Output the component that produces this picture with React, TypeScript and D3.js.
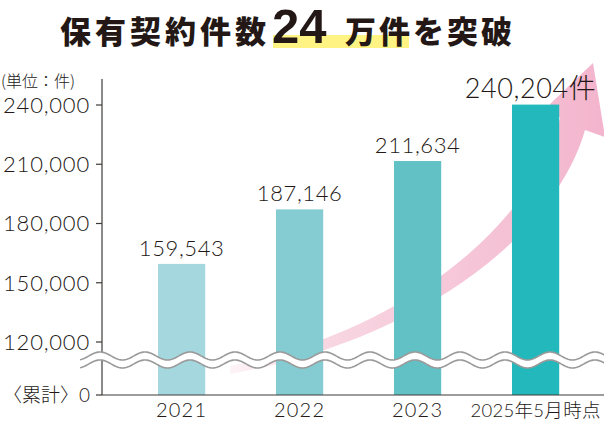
import React from "react";
import * as d3 from "d3";

const categories = ["2021", "2022", "2023", "2025年5月時点"];
const values = [159543, 187146, 211634, 240204];
const valueLabels = ["159,543", "187,146", "211,634", "240,204件"];
const tickValues = [120000, 150000, 180000, 210000, 240000];
const barColors = ["#a4d8de", "#85ccd2", "#62c1c5", "#23b8bb"];

const W = 604;
const H = 421;
const AXIS_X = 102;
const BASE_Y = 395;
const INK = "#231815";
const NUM_FONT = "Lato, 'Noto Sans CJK JP', sans-serif";
const JP_FONT = "'Noto Sans CJK JP', sans-serif";

function wavePath(x0: number, x1: number, yc: number) {
  const pts: [number, number][] = [];
  for (let x = x0; x <= x1; x += 1) {
    pts.push([x, yc - 4 * Math.cos((2 * Math.PI * (x - 100)) / 45)]);
  }
  return pts;
}

export default function App() {
  const x = d3
    .scaleBand<string>()
    .domain(categories)
    .range([158, 559.2])
    .paddingInner(0.6)
    .paddingOuter(0);
  const y = d3.scaleLinear().domain([120000, 240000]).range([342, 105]);

  const upper = wavePath(80, 606, 356);
  const lower = wavePath(80, 606, 364);
  const line = d3.line();
  const fillPts = [...upper, ...lower.slice().reverse()];

  const arrow =
    "M230,374 C420,340 555,235 585,130 L605,137 L593,63 L550,104 L560,118 C535,220 410,330 230,366 Z";

  return (
    <svg
      width={W}
      height={H}
      style={{ position: "absolute", left: 0, top: 0, background: "#fff" }}
    >
      <defs>
        <linearGradient id="arrowGrad" gradientUnits="userSpaceOnUse" x1={230} y1={0} x2={600} y2={0}>
          <stop offset="0" stopColor="#f6c9da" stopOpacity={0.2} />
          <stop offset="0.25" stopColor="#f7d2df" stopOpacity={0.9} />
          <stop offset="1" stopColor="#f3b5cd" stopOpacity={1} />
        </linearGradient>
      </defs>

      {/* Title */}
      <rect x={273} y={35} width={136} height={13} fill="#fff383" />
      <text x={60} y={43} fontFamily={JP_FONT} fontWeight={900} fontSize={31} letterSpacing={4} fill={INK}>
        保有契約件数
      </text>
      <text x={272} y={43} fontFamily="'Liberation Sans', Arial, sans-serif" fontWeight={700} fontSize={49} fill={INK}>
        24
      </text>
      <text x={345} y={43} fontFamily={JP_FONT} fontWeight={900} fontSize={31} letterSpacing={3} fill={INK}>
        万件を突破
      </text>

      {/* Arrow */}
      <path d={arrow} fill="url(#arrowGrad)" />

      {/* Bars */}
      {categories.map((c, i) => (
        <rect
          key={c}
          x={x(c)}
          y={y(values[i])}
          width={x.bandwidth()}
          height={BASE_Y - y(values[i])}
          fill={barColors[i]}
        />
      ))}

      {/* Value labels */}
      {categories.map((c, i) => {
        const last = i === categories.length - 1;
        return (
          <text
            key={c}
            x={(x(c) ?? 0) + x.bandwidth() / 2 - (last ? 5 : 0)}
            y={y(values[i]) - (last ? 7 : 8)}
            textAnchor="middle"
            fontFamily={NUM_FONT}
            fontWeight={300}
            fontSize={last ? 27 : 22}
            letterSpacing={0.6}
            fill={INK}
          >
            {valueLabels[i]}
          </text>
        );
      })}

      {/* Y axis */}
      <line x1={AXIS_X} x2={AXIS_X} y1={79} y2={BASE_Y} stroke="#3e3a39" strokeWidth={1.2} />
      {tickValues.map((t) => (
        <g key={t}>
          <line x1={AXIS_X - 6} x2={AXIS_X} y1={y(t)} y2={y(t)} stroke="#3e3a39" strokeWidth={1.2} />
          <text
            x={90}
            y={y(t)}
            dy="0.36em"
            textAnchor="end"
            fontFamily={NUM_FONT}
            fontWeight={300}
            fontSize={22}
            letterSpacing={0.8}
            fill={INK}
          >
            {d3.format(",")(t)}
          </text>
        </g>
      ))}
      <line x1={AXIS_X - 6} x2={AXIS_X} y1={BASE_Y} y2={BASE_Y} stroke="#3e3a39" strokeWidth={1.2} />
      <text x={90} y={BASE_Y} dy="0.36em" textAnchor="end" fontFamily={NUM_FONT} fontWeight={300} fontSize={19} fill={INK}>
        〈累計〉0
      </text>
      <text x={1} y={87} fontFamily={JP_FONT} fontWeight={300} fontSize={16} fill={INK}>
        (単位：件)
      </text>

      {/* X baseline */}
      <line x1={AXIS_X} x2={W} y1={BASE_Y} y2={BASE_Y} stroke="#3e3a39" strokeWidth={1.2} />
      {categories.map((c, i) => {
        const last = i === categories.length - 1;
        return (
          <text
            key={c}
            x={(x(c) ?? 0) + x.bandwidth() / 2}
            y={417}
            textAnchor="middle"
            fontFamily={NUM_FONT}
            fontWeight={300}
            fontSize={last ? 18.5 : 20}
            letterSpacing={last ? 0.3 : 1.2}
            fill={INK}
          >
            {c}
          </text>
        );
      })}

      {/* Axis break */}
      <path d={line(fillPts as [number, number][]) + "Z"} fill="#fff" stroke="none" />
      <path d={line(upper) ?? ""} fill="none" stroke="#9a9a9a" strokeWidth={1.6} />
      <path d={line(lower) ?? ""} fill="none" stroke="#9a9a9a" strokeWidth={1.6} />
    </svg>
  );
}
